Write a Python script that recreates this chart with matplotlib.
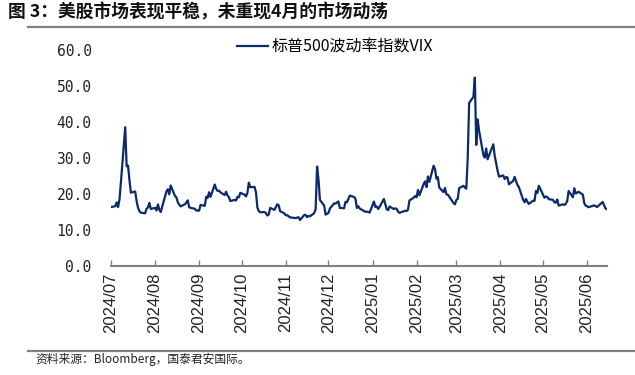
import matplotlib
matplotlib.use("Agg")
import matplotlib.pyplot as plt
import matplotlib.dates as mdates
import pandas as pd
from matplotlib.lines import Line2D

plt.rcParams['font.family'] = ['Noto Sans CJK SC', 'DejaVu Sans']

# ---------------- data (VIX daily closes) ----------------
v_jul24 = [16.39, 16.60, 17.69, 16.36]
v_aug24 = [18.59, 23.39, 38.57, 27.71, 27.85, 23.79, 20.37, 20.71, 18.12, 16.19,
           15.23, 14.80, 14.65, 15.88, 16.27, 17.55, 15.86, 16.15, 15.43, 17.11,
           15.65, 15.00]
v_sep24 = [20.72, 21.32, 19.90, 22.38, 19.45, 19.08, 17.69, 17.07, 16.56, 17.14,
           17.61, 18.23, 16.33, 16.15, 15.89, 15.39, 15.41, 15.37, 16.96, 16.73]
v_oct24 = [19.26, 18.90, 20.49, 19.21, 22.64, 21.42, 20.86, 20.93, 20.46, 19.70,
           20.64, 19.58, 19.11, 18.03, 18.37, 18.20, 19.24, 19.08, 20.33, 19.80,
           19.34, 20.35, 23.16]
v_nov24 = [21.88, 21.98, 20.49, 16.27, 15.20, 14.94, 14.97, 14.71, 14.02, 14.31,
           16.14, 15.58, 16.35, 17.16, 16.87, 15.24, 14.60, 14.10, 14.10, 13.51]
v_dec24 = [13.34, 13.30, 13.45, 13.54, 12.77, 14.18, 14.18, 13.58, 13.92, 13.81,
           14.69, 15.87, 27.62, 24.09, 18.36, 16.78, 14.27, 14.73, 15.95, 17.40,
           17.35]
v_jan25 = [17.93, 16.13, 16.04, 17.82, 17.70, 19.54, 19.19, 18.71, 16.12, 16.60,
           15.97, 15.06, 15.10, 15.02, 14.85, 17.90, 16.41, 16.56, 15.84, 16.43]
v_feb25 = [18.62, 17.21, 15.77, 15.50, 16.54, 15.81, 16.02, 15.89, 15.10, 14.77,
           15.35, 15.27, 15.66, 18.21, 18.98, 19.43, 19.10, 21.13, 19.63]
v_mar25 = [22.78, 23.51, 21.93, 24.87, 23.37, 27.86, 26.92, 24.23, 24.66, 21.77,
           20.51, 21.70, 19.90, 19.80, 19.28, 17.48, 17.15, 18.33, 18.69, 21.65,
           22.28]
v_apr25 = [21.77, 21.51, 30.02, 45.31, 46.98, 52.33, 33.62, 40.72, 37.56, 30.89,
           30.12, 32.64, 29.65, 33.82, 30.57, 28.45, 26.47, 24.84, 25.15, 24.17,
           24.70]
v_may25 = [24.60, 22.68, 23.64, 24.76, 23.55, 22.48, 21.90, 18.39, 17.72, 18.62,
           17.83, 17.24, 18.14, 18.09, 20.87, 20.28, 22.29, 18.96, 19.31, 19.18,
           18.57]
v_jun25 = [18.36, 17.69, 17.61, 18.48, 16.77, 17.16, 16.95, 17.26, 18.02, 20.82,
           19.11, 21.60, 20.14, 20.62, 19.83, 17.48, 16.76, 16.59, 16.32, 16.73]
v_jul25 = [16.83, 16.64, 16.38, 17.79, 16.81, 15.94, 15.78]

vix = (v_jul24 + v_aug24 + v_sep24 + v_oct24 + v_nov24 + v_dec24 + v_jan25 +
       v_feb25 + v_mar25 + v_apr25 + v_may25 + v_jun25 + v_jul25)

holidays = ['2024-09-02', '2024-11-28', '2024-12-25', '2025-01-01', '2025-01-09',
            '2025-01-20', '2025-02-17', '2025-04-18', '2025-05-26', '2025-06-19',
            '2025-07-04']
trade_days = pd.bdate_range('2024-07-26', '2025-07-10', freq='C', holidays=holidays)
# the source chart's date axis is offset by 25 days relative to the trading dates
chart_dates = trade_days - pd.Timedelta(days=25)

series_label = '标普500波动率指数VIX'
title_text = '图 3：美股市场表现平稳，未重现4月的市场动荡'
source_text = '资料来源：Bloomberg，国泰君安国际。'
y_ticks = [0, 10, 20, 30, 40, 50, 60]

# ---------------- figure ----------------
W, H = 635, 375
fig = plt.figure(figsize=(W / 100, H / 100), dpi=100)
ax = fig.add_axes([111 / W, 1 - 266 / H, (607 - 111) / W, (266 - 50) / H])

line_color = '#0b2a6b'
ax.plot(chart_dates, vix, color=line_color, lw=1.6, solid_joinstyle='round')

ax.set_xlim(chart_dates[0], chart_dates[-1])
ax.set_ylim(0, 60)
ax.set_yticks(y_ticks)
ax.set_yticklabels([f'{t:.1f}' for t in y_ticks], family=['DejaVu Sans Mono'],
                   fontsize=10.5, color='#222222')
ax.tick_params(axis='y', length=0, pad=14)

ax.xaxis.set_major_locator(mdates.MonthLocator())
ax.xaxis.set_major_formatter(mdates.DateFormatter('%Y/%m'))
ax.tick_params(axis='x', direction='in', length=4, width=1, color='#808080',
               labelsize=12, labelcolor='#222222', pad=5)
plt.setp(ax.get_xticklabels(), rotation=90, family=['Liberation Sans'])

for s in ['top', 'right', 'left']:
    ax.spines[s].set_visible(False)
ax.spines['bottom'].set_color('#808080')
ax.spines['bottom'].set_linewidth(1.5)

handle = Line2D([], [], color=line_color, lw=1.6)
ax.legend([handle], [series_label], loc='center left',
          bbox_to_anchor=((237 - 111) / 496, (266 - 47) / 216), frameon=False,
          fontsize=11.5, handlelength=1.95, handletextpad=0.25,
          borderpad=0, borderaxespad=0)

# title, rules and source
fig.text(8 / W, 1 - 12 / H, title_text, fontsize=12.8, fontweight='bold',
         va='center', ha='left', color='#111111')
fig.add_artist(Line2D([28 / W, 1], [1 - 27 / H, 1 - 27 / H], color='#808080', lw=1.6))
fig.add_artist(Line2D([28 / W, 1], [1 - 351 / H, 1 - 351 / H], color='#808080', lw=1.6))
fig.text(35 / W, 1 - 359 / H, source_text, fontsize=8.5, style='italic',
         va='center', ha='left', color='#222222')

fig.savefig('out.png', dpi=100)
